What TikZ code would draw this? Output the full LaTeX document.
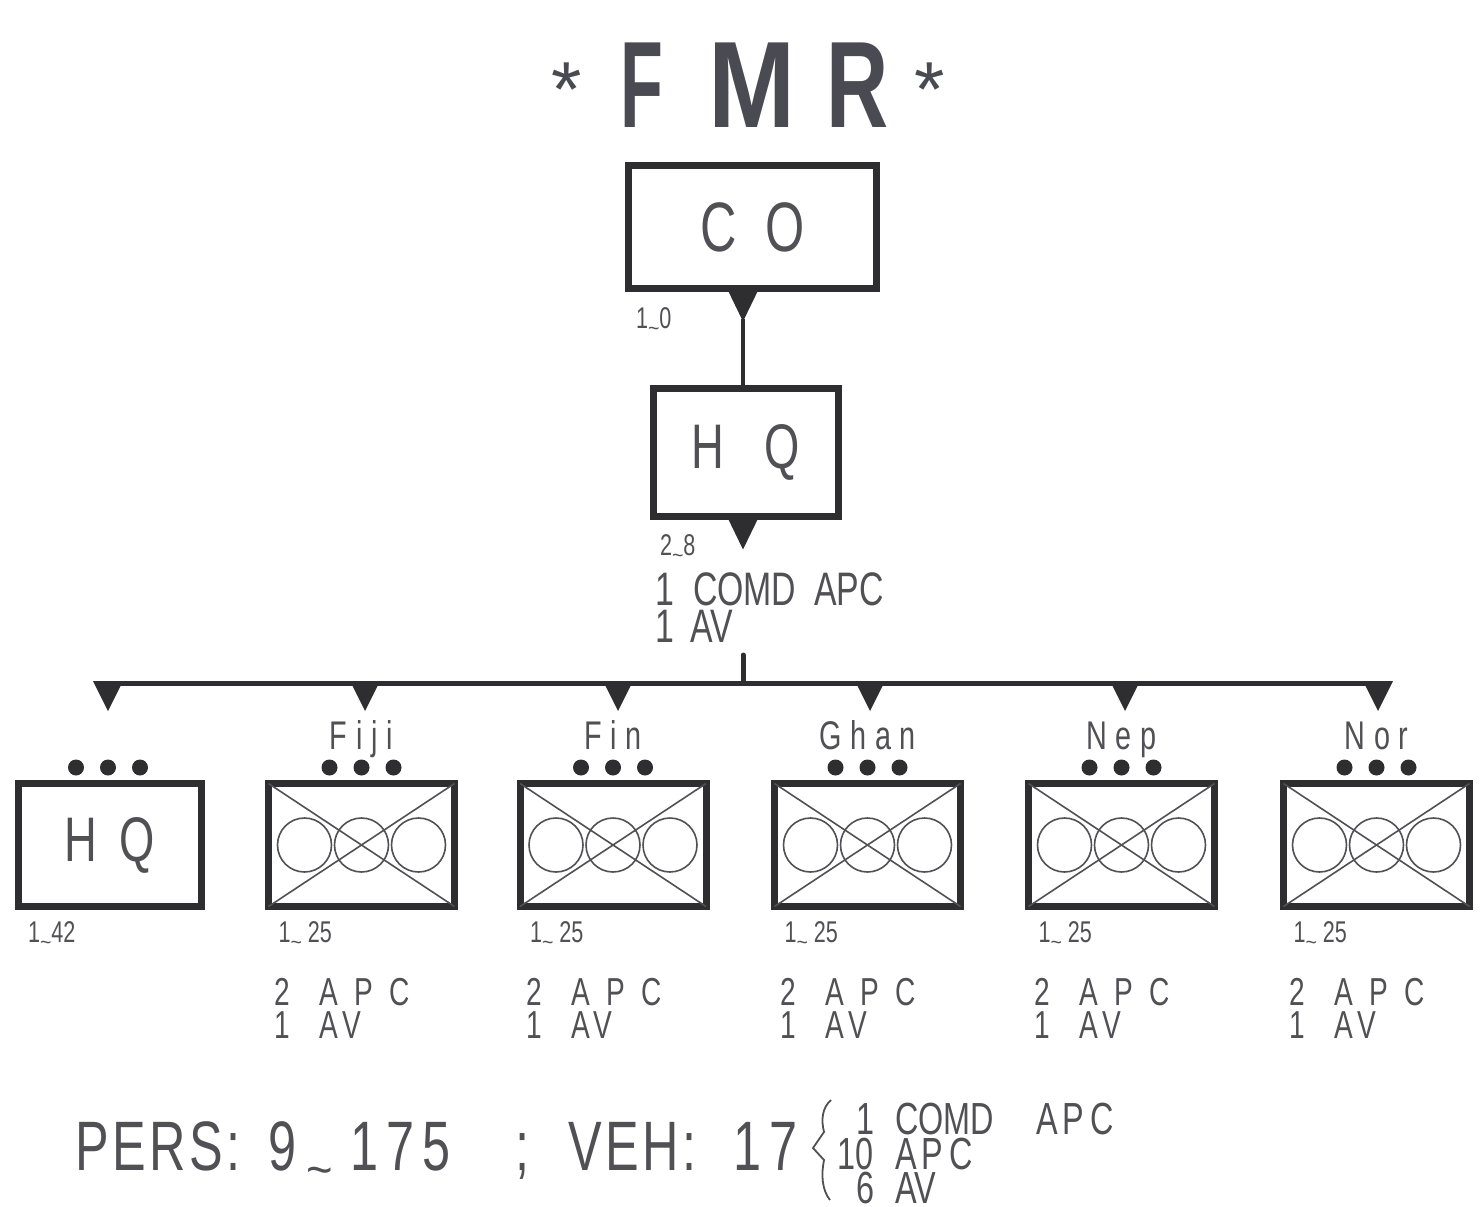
\documentclass[tikz,border=0pt]{standalone}
\usepackage{fontspec}
\usepackage{graphicx}
\setmainfont{Liberation Sans}
\newfontfamily\cond[FakeStretch=0.72]{Liberation Sans}
\newfontfamily\condsp[FakeStretch=0.72,LetterSpace=22]{Liberation Sans}
\newfontfamily\condlt[FakeStretch=0.72,LetterSpace=12]{Liberation Sans}
\newfontfamily\condvl[FakeStretch=0.72,LetterSpace=5]{Liberation Sans}
\newfontfamily\tit{Liberation Sans}
\usetikzlibrary{calc}
\definecolor{ink}{HTML}{2E2E30}
\definecolor{txt}{HTML}{505055}
\definecolor{ttl}{HTML}{4A4A52}
\newcommand\fs[1]{\fontsize{#1}{#1}\selectfont}
\newcommand\tl{\raisebox{-0.24em}{\scalebox{0.9}[0.7]{\textasciitilde}}}
\begin{document}
\begin{tikzpicture}[x=1pt,y=-1pt,
  every node/.style={inner sep=0pt,outer sep=0pt,text=txt},
  bigbox/.style={draw=ink,line width=7pt,minimum width=#1,minimum height=123pt},
  unitbox/.style={draw=ink,line width=7pt,minimum width=186pt,minimum height=123pt},
  thin/.style={draw=txt,line width=1.6pt},
  bus/.style={draw=ink,line width=5pt},
  tiny/.style={font=\cond\fs{30},anchor=base west},
  mid/.style={font=\cond\fs{47},anchor=base west},
  big/.style={font=\condvl\fs{70},anchor=base west},
  brc/.style={font=\cond\fs{45},anchor=base west},
]
\useasboundingbox (0,0) rectangle (1484,1207);
% title
\node[anchor=base,text=ttl] (tf) at (642,128) {\tit\bfseries\fs{123}\scalebox{0.57}[1]{F}};
\node[anchor=base,text=ttl] (tm) at (752,128) {\tit\bfseries\fs{123}\scalebox{0.85}[1]{M}};
\node[anchor=base,text=ttl] (tr) at (858,128) {\tit\bfseries\fs{123}\scalebox{0.70}[1]{R}};
\node[anchor=base,text=ttl] (s1) at (567,116) {\tit\fs{78}*};
\node[anchor=base,text=ttl] (s2) at (930,116) {\tit\fs{78}*};
% CO and HQ
\coordinate (j) at (743,0);
\node[bigbox=248pt] (co) at (752.5,227) {\cond\fs{70}C\hspace{28pt}O};
\node[tiny] (colab) at (636,328) {1\tl 0};
\node[bigbox=185pt,minimum height=128pt] (hq) at (746,452.5) {\cond\fs{63}H\hspace{40pt}Q};
\coordinate (cot) at (co.south -| j);
\coordinate (hqt) at (hq.south -| j);
\fill[ink] ($(cot)+(-16,0)$) -- ($(cot)+(16,0)$) -- ($(cot)+(0,33)$) -- cycle;
\draw[ink,line width=4pt] ($(cot)+(0,30)$) -- (hq.north -| j);
\fill[ink] ($(hqt)+(-16,0)$) -- ($(hqt)+(16,0)$) -- ($(hqt)+(0,33)$) -- cycle;
\node[tiny] (hqlab) at (660,555) {2\tl 8};
\node[mid] (hqv1a) at (655,605) {1};
\node[mid] (hqv1b) at (693,605) {COMD};
\node[mid] (hqv1c) at (814,605) {APC};
\node[mid] (hqv2a) at (655,642) {1};
\node[mid] (hqv2b) at (690,642) {AV};
% bus
\coordinate (t) at (743,655);
\coordinate (bm) at (743,683);
\coordinate (b1) at (108,683);
\coordinate (b2) at (365,683);
\coordinate (b3) at (618,683);
\coordinate (b4) at (870,683);
\coordinate (b5) at (1125,683);
\coordinate (b6) at (1378,683);
\draw[ink,line width=5pt,line cap=round] (t) -- (bm);
\draw[bus] (b1) -- (b6);
\foreach \b in {b1,b2,b3,b4,b5,b6}{
  \fill[ink] ($(\b)+(-15,-2)$) -- ($(\b)+(15,-2)$) -- ($(\b)+(0,28)$) -- cycle;
}
% HQ bottom
\node[unitbox,minimum width=183pt] (u0) at (110,845) {\cond\fs{63}H\hspace{22pt}Q};
\node[tiny] (l0) at (28,942) {1\tl 42};
\foreach \dx in {-32,0,32}{\fill[ink] ($(u0.north)+(\dx-2,-16)$) circle (8pt);}
% units
\foreach \n/\x/\nm in {u1/361.5/Fiji,u2/613/Fin,u3/867.5/Ghan,u4/1121.5/Nep,u5/1376.5/Nor}{
  \node[unitbox] (\n) at (\x,845) {};
  \draw[thin] (\n.north west) -- (\n.south east);
  \draw[thin] (\n.south west) -- (\n.north east);
  \foreach \dx in {-57,0,57}{\draw[thin] ($(\n.center)+(\dx,0)$) circle (27pt);}
  \foreach \dx in {-32,0,32}{\fill[ink] ($(\n.north)+(\dx,-16)$) circle (8pt);}
  \node[anchor=base,font=\condsp\fs{40}] (\n name) at (\x,749) {\nm};
  \node[tiny] (\n lab) at ($(\n.west)+(10,97)$) {1\tl\ 25};
  \node[anchor=base west,font=\cond\fs{39}] (\n a) at ($(\n.west)+(6,160)$) {2};
  \node[anchor=base west,font=\cond\fs{39}] (\n b) at ($(\n.west)+(6,193)$) {1};
  \node[anchor=base west,font=\condsp\fs{39}] (\n c) at ($(\n.west)+(51,160)$) {A P C};
  \node[anchor=base west,font=\cond\fs{39}] (\n d) at ($(\n.west)+(51,193)$) {A\hspace{4pt}V};
}
% totals
\node[big] (pers) at (75,1170) {PERS:};
\node[big] (p9) at (268,1170) {9};
\node[big] (pt) at (306,1170) {\tl};
\node[big] (p175) at (350,1170) {\condlt 175};
\node[big] (semi) at (515,1170) {;};
\node[big] (veh) at (568,1170) {VEH:};
\node[big] (v17) at (733,1170) {\condlt 17};
\draw[txt,line width=1.8pt] (831,1100) .. controls (822,1108) and (821,1120) .. (824,1132) -- (813,1148) -- (824,1160) .. controls (821,1175) and (822,1190) .. (830,1200);
\node[brc] (v1a) at (856,1134) {1};
\node[brc] (v1b) at (895,1134) {COMD};
\node[brc] (v1c) at (1036,1134) {\condlt APC};
\node[brc] (v2a) at (837,1169) {10};
\node[brc] (v2b) at (895,1169) {\condlt APC};
\node[brc] (v3a) at (856,1203) {6};
\node[brc] (v3b) at (895,1203) {AV};
\end{tikzpicture}
\end{document}
